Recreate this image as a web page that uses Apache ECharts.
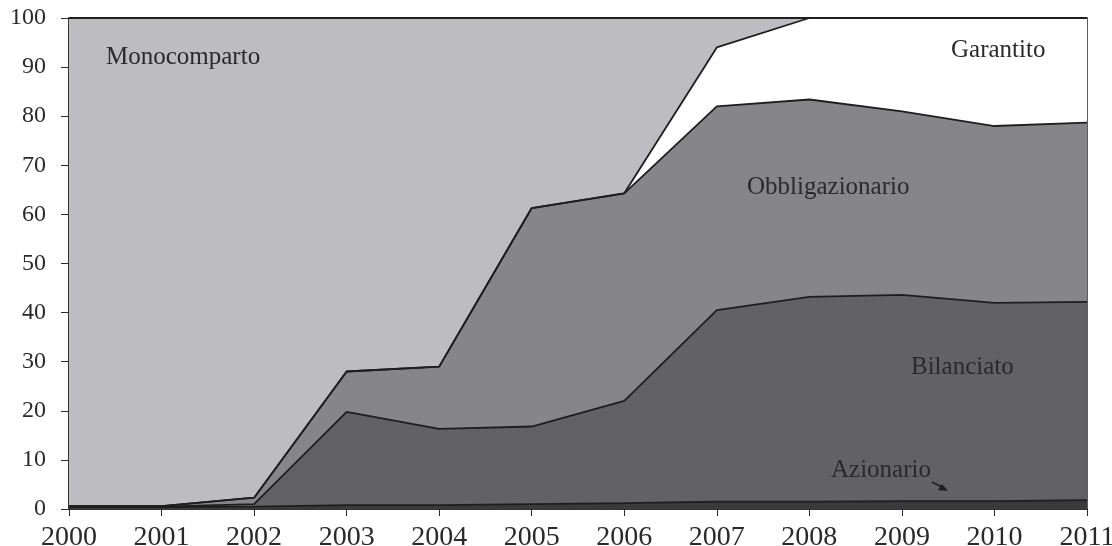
<!DOCTYPE html>
<html>
<head>
<meta charset="utf-8">
<script src="https://cdn.jsdelivr.net/npm/echarts@6/dist/echarts.min.js"></script>
<style>
  html, body { margin: 0; padding: 0; background: #fff; }
  #chart { width: 1112px; height: 546px; }
</style>
</head>
<body>
<div id="chart"></div>
<script>
// anni
const years = ['2000', '2001', '2002', '2003', '2004', '2005', '2006', '2007', '2008', '2009', '2010', '2011'];

// quote per tipologia (%), dal basso verso l'alto
const azionario       = [0.4, 0.4, 0.5, 0.8, 0.8, 1.0, 1.2, 1.5, 1.5, 1.6, 1.6, 1.8];
const bilanciato      = [0.1, 0.1, 0.5, 19.0, 15.5, 15.8, 20.8, 39.0, 41.7, 42.0, 40.4, 40.4];
const obbligazionario = [0.1, 0.1, 1.3, 8.2, 12.7, 44.5, 42.3, 41.5, 40.2, 37.4, 36.0, 36.5];
const garantito       = [0, 0, 0, 0, 0, 0, 0, 12.0, 16.6, 19.0, 22.0, 21.3];
const monocomparto    = [99.4, 99.4, 97.7, 72.0, 71.0, 38.7, 35.7, 6.0, 0, 0, 0, 0];

const yTicks = [0, 10, 20, 30, 40, 50, 60, 70, 80, 90, 100];

const chart = echarts.init(document.getElementById('chart'), null, { renderer: 'canvas' });

const font = 'Liberation Serif';
const ink = '#2a2a2c';

function area(name, data, color) {
  return {
    name: name,
    type: 'line',
    stack: 'tot',
    data: data,
    symbol: 'none',
    lineStyle: { color: '#1e1e20', width: 1.8 },
    areaStyle: { color: color, opacity: 1 },
    z: 2
  };
}

function label(text, x, y) {
  return {
    type: 'text', left: x, top: y, z: 50,
    style: { text: text, fill: ink, fontFamily: font, fontSize: 25 }
  };
}

const option = {
  backgroundColor: '#ffffff',
  animation: false,
  grid: {
    left: 69,
    right: 25,
    top: 18,
    bottom: 37,
    outerBoundsMode: 'none',
    containLabel: false,
    show: true,
    borderColor: ink,
    borderWidth: 1.5,
    backgroundColor: 'transparent'
  },
  xAxis: {
    type: 'category',
    data: years,
    boundaryGap: false,
    axisLine: { lineStyle: { color: ink, width: 1.5 } },
    axisTick: { show: true, length: 7, lineStyle: { color: ink } },
    axisLabel: { color: ink, fontFamily: font, fontSize: 28, margin: 15 },
    splitLine: { show: false }
  },
  yAxis: {
    type: 'value',
    min: yTicks[0],
    max: yTicks[yTicks.length - 1],
    interval: 10,
    axisLine: { show: true, lineStyle: { color: ink, width: 1.5 } },
    axisTick: { show: true, length: 8, lineStyle: { color: ink } },
    axisLabel: { color: ink, fontFamily: font, fontSize: 24, margin: 23 },
    splitLine: { show: false }
  },
  series: [
    area('Azionario', azionario, '#3a3a3d'),
    area('Bilanciato', bilanciato, '#626266'),
    area('Obbligazionario', obbligazionario, '#86868a'),
    area('Garantito', garantito, '#ffffff'),
    area('Monocomparto', monocomparto, '#bdbdc1')
  ],
  graphic: {
    elements: [
      label('Monocomparto', 106, 45),
      label('Garantito', 951, 38),
      label('Obbligazionario', 747, 175),
      label('Bilanciato', 911, 355),
      label('Azionario', 831, 458),
      { type: 'line', z: 50, shape: { x1: 932, y1: 482, x2: 944, y2: 488 }, style: { stroke: '#1e1e20', lineWidth: 1.5 } },
      { type: 'polygon', z: 50, shape: { points: [[948, 491], [938, 490], [942, 484]] }, style: { fill: '#1e1e20' } }
    ]
  }
};

chart.setOption(option);
</script>
</body>
</html>
